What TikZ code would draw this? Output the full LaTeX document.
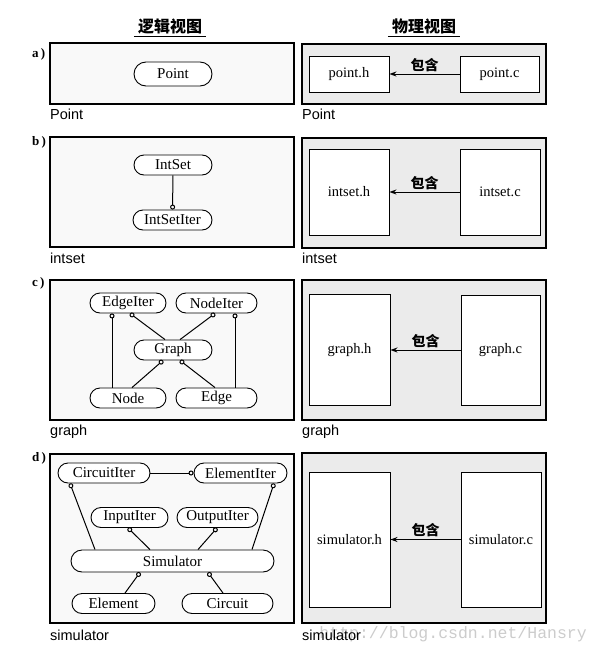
\documentclass[tikz,border=0pt]{standalone}
\usepackage{fontspec}
\setmainfont{Liberation Serif}
\setsansfont{Liberation Sans}
\setmonofont{Liberation Mono}
\newfontfamily\cjk{Noto Sans CJK SC}
\usepackage{tikz}
\usetikzlibrary{arrows.meta,positioning,calc}
\usepackage{xcolor}
\definecolor{scanGray}{gray}{0.92}
\definecolor{paleGray}{gray}{0.975}

\tikzset{
    classNode/.style={draw, fill=white, line width=0.9pt, rounded corners=10pt,
        minimum height=20, inner sep=0pt, font=\fontsize{15}{17}\selectfont},
    fileBox/.style={draw, fill=white, line width=0.9pt, inner sep=0pt,
        font=\fontsize{14.5}{16}\selectfont},
    panelLeft/.style={draw, fill=paleGray, line width=1.1pt},
    panelRight/.style={draw, fill=scanGray, line width=1.1pt},
    useLink/.style={line width=1pt, {Circle[open,length=5pt,width=5pt]}-},
    useLinkEnd/.style={line width=1pt, -{Circle[open,length=5pt,width=5pt]}},
    inclArrow/.style={line width=1pt, -{Stealth[length=7pt,width=5pt]}},
    pkgLabel/.style={anchor=west, inner sep=0pt, font=\sffamily\fontsize{14.5}{16}\selectfont},
    rowTag/.style={anchor=west, inner sep=0pt, font=\bfseries\fontsize{13}{15}\selectfont},
    viewTitle/.style={inner xsep=4pt, inner ysep=3pt, font=\cjk\bfseries\fontsize{16}{18}\selectfont},
    inclLabel/.style={above, inner sep=2pt, font=\cjk\bfseries\fontsize{14}{16}\selectfont}
}

\begin{document}
\begin{tikzpicture}[x=1pt, y=-1pt]
    \useasboundingbox (0,0) rectangle (597,653);
    % Titles
    \node[viewTitle] (logTitle) at (170,26) {逻辑视图};
    \draw[line width=0.8pt] (logTitle.south west) -- (logTitle.south east);
    \node[viewTitle] (phyTitle) at (424,26) {物理视图};
    \draw[line width=0.8pt] (phyTitle.south west) -- (phyTitle.south east);
    % Panels
    \draw[panelLeft]  (50,43)  rectangle (294,104);
    \draw[panelRight] (302,44) rectangle (546,104);
    \draw[panelLeft]  (50,137) rectangle (294,247);
    \draw[panelRight] (302,138) rectangle (546,248);
    \draw[panelLeft]  (50,280) rectangle (294,420);
    \draw[panelRight] (302,280) rectangle (546,420);
    \draw[panelLeft]  (50,454) rectangle (294,623);
    \draw[panelRight] (302,453) rectangle (546,623);
    % Row tags
    \node[rowTag] (tagA) at (32,54)  {a\,)};
    \node[rowTag] (tagB) at (32,142) {b\,)};
    \node[rowTag] (tagC) at (32,283) {c\,)};
    \node[rowTag] (tagD) at (32,458) {d\,)};
    % Package labels
    \node[font=\ttfamily\fontsize{16.5}{18}\selectfont, text=gray!40, anchor=east, inner sep=0pt]
        (watermark) at (587,634) {http://blog.csdn.net/Hansry};
    \node[pkgLabel] (lblA1) at (50,114)  {Point};
    \node[pkgLabel] (lblA2) at (302,114) {Point};
    \node[pkgLabel] (lblB1) at (50,258)  {intset};
    \node[pkgLabel] (lblB2) at (302,258) {intset};
    \node[pkgLabel] (lblC1) at (50,432)  {graph};
    \node[pkgLabel] (lblC2) at (302,432) {graph};
    \node[pkgLabel] (lblD1) at (50,635)  {simulator};
    \node[pkgLabel] (lblD2) at (302,635) {simulator};

    % a) Point
    \node[classNode, minimum width=78, minimum height=24, rounded corners=12pt] (Point) at (173,74) {Point};
    \node[fileBox, minimum width=80, minimum height=36] (pointH) at (349,74) {point.h};
    \node[fileBox, minimum width=79, minimum height=36] (pointC) at (499.5,74) {point.c};
    \draw[inclArrow] (pointC) -- node[inclLabel] {包含} (pointH);

    % b) intset
    \node[classNode, minimum width=78] (IntSet) at (173,165) {IntSet};
    \node[classNode, minimum width=79] (IntSetIter) at (172.5,220) {IntSetIter};
    \draw[useLinkEnd] (IntSet) -- (IntSetIter);
    \node[fileBox, minimum width=80, minimum height=86] (intsetH) at (349,192) {intset.h};
    \node[fileBox, minimum width=80, minimum height=86] (intsetC) at (500,192) {intset.c};
    \draw[inclArrow] (intsetC) -- node[inclLabel] {包含} (intsetH);

    % c) graph
    \node[classNode, minimum width=76] (EdgeIter) at (128,303) {EdgeIter};
    \node[classNode, minimum width=81] (NodeIter) at (216.5,303) {NodeIter};
    \node[classNode, minimum width=78] (Graph) at (173,350) {Graph};
    \node[classNode, minimum width=76] (NodeCls) at (128,398) {Node};
    \node[classNode, minimum width=81] (EdgeCls) at (216.5,398) {Edge};
    \draw[useLink] ([xshift=-16]EdgeIter.south) -- ([xshift=-16]NodeCls.north);
    \draw[useLink] ([xshift=2]EdgeIter.south) -- ([xshift=-8]Graph.north);
    \draw[useLink] ([xshift=-1.5]NodeIter.south) -- ([xshift=7]Graph.north);
    \draw[useLink] ([xshift=18.5]NodeIter.south) -- ([xshift=18.5]EdgeCls.north);
    \draw[useLink] ([xshift=-10]Graph.south) -- ([xshift=4]NodeCls.north);
    \draw[useLink] ([xshift=7]Graph.south) -- ([xshift=-1.5]EdgeCls.north);
    \node[fileBox, minimum width=81, minimum height=111] (graphH) at (349.5,350) {graph.h};
    \node[fileBox, minimum width=79, minimum height=110] (graphC) at (500.5,350) {graph.c};
    \draw[inclArrow] (graphC) -- node[inclLabel] {包含} (graphH);

    % d) simulator
    \node[classNode, minimum width=92] (CircuitIter) at (104,473) {CircuitIter};
    \node[classNode, minimum width=93] (ElementIter) at (240.5,473) {ElementIter};
    \node[classNode, minimum width=77] (InputIter) at (129.5,517.5) {InputIter};
    \node[classNode, minimum width=81] (OutputIter) at (217.5,517.5) {OutputIter};
    \node[classNode, minimum width=203, minimum height=22, rounded corners=11pt] (Simulator) at (172.5,561) {Simulator};
    \node[classNode, minimum width=83] (Element) at (113.5,603.5) {Element};
    \node[classNode, minimum width=91] (Circuit) at (227.5,603.5) {Circuit};
    \draw[useLinkEnd] (CircuitIter) -- (ElementIter);
    \draw[useLink] ([xshift=-34]CircuitIter.south) -- ([xshift=-77.5]Simulator.north);
    \draw[useLink] ([xshift=33.5]ElementIter.south) -- ([xshift=79.5]Simulator.north);
    \draw[useLink] ([xshift=-1.5]InputIter.south) -- ([xshift=-22.5]Simulator.north);
    \draw[useLink] ([xshift=-0.5]OutputIter.south) -- ([xshift=25.5]Simulator.north);
    \draw[useLink] ([xshift=-32.5]Simulator.south) -- ([xshift=11.5]Element.north);
    \draw[useLink] ([xshift=35.5]Simulator.south) -- ([xshift=-4.5]Circuit.north);
    \node[fileBox, minimum width=81, minimum height=135] (simH) at (349.5,539.5) {simulator.h};
    \node[fileBox, minimum width=80, minimum height=135] (simC) at (501,539.5) {simulator.c};
    \draw[inclArrow] (simC) -- node[inclLabel] {包含} (simH);
\end{tikzpicture}
\end{document}
